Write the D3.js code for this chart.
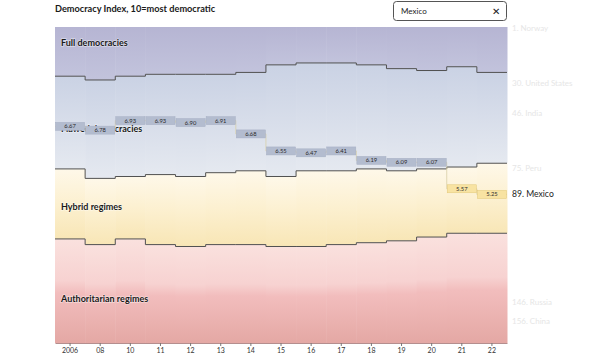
<!DOCTYPE html>
<html><head><meta charset="utf-8">
<script src="https://cdn.jsdelivr.net/npm/d3@7"></script>
<style>
html,body{margin:0;padding:0;background:#fff;}
svg{display:block;font-family:Lato,"Open Sans",sans-serif;}
</style></head>
<body>
<svg id="c" width="600" height="363"></svg>
<script>
// ---- data ----
const years = ["2006","08","10","11","12","13","14","15","16","17","18","19","20","21","22"];
const fullDem   = [26,28,26,25,25,25,24,20,19,19,20,22,23,21,24];
const flawedDem = [49,52,53,53,54,52,52,59,57,57,55,54,52,53,48];
const hybrid    = [37,35,33,37,37,38,39,37,40,39,39,37,36,35,37];
const authorit  = [55,52,55,52,51,52,52,51,51,52,53,54,56,58,58];
const mexicoScore = [6.67,6.78,6.93,6.93,6.90,6.91,6.68,6.55,6.47,6.41,6.19,6.09,6.07,5.57,5.25];
const mexicoRank  = [53,55,50,50,51,50,57,66,67,66,71,72,72,86,89];
const sideNames = ["Norway","United States","India","Peru","Mexico","Russia","China"];
const sideRanks = [1,30,46,75,89,146,156];
const categoryNames = ["Full democracies","Flawed democracies","Hybrid regimes","Authoritarian regimes"];
const totalCountries = 167;

// ---- build ----
const svg = d3.select("#c");
const keys = ["full","flawed","hybrid","auth"];
const table = years.map((yr,i)=>({year:yr, full:fullDem[i], flawed:flawedDem[i], hybrid:hybrid[i], auth:authorit[i]}));
const stack = d3.stack().keys(keys)(table);

const x = d3.scaleBand().domain(years).range([55,507]).padding(0);
const y = d3.scaleLinear().domain([0,totalCountries]).range([27,343]);
const bw = x.bandwidth();

const grads = {
  full:   [["0%","#b6b5d3"],["100%","#c2c3dc"]],
  flawed: [["0%","#cad2e4"],["100%","#e5e9f0"]],
  hybrid: [["0%","#fef8e9"],["50%","#fcf0d0"],["100%","#f8e6b6"]],
  auth:   [["0%","#fae1de"],["40%","#f7d2d1"],["52%","#f2bdbd"],["100%","#e4a8a4"]]
};
const defs = svg.append("defs");
Object.entries(grads).forEach(([k,stops])=>{
  const g = defs.append("linearGradient").attr("id","g-"+k).attr("x1",0).attr("x2",0).attr("y1",0).attr("y2",1);
  stops.forEach(s=>g.append("stop").attr("offset",s[0]).attr("stop-color",s[1]));
});

// bands
stack.forEach(layer=>{
  svg.append("g").selectAll("rect").data(layer).join("rect")
    .attr("x",d=>x(d.data.year)).attr("width",bw+0.5)
    .attr("y",d=>y(d[0])).attr("height",d=>y(d[1])-y(d[0]))
    .attr("fill","url(#g-"+layer.key+")");
});

// boundary step lines
for(let li=0; li<3; li++){
  const layer = stack[li];
  let p = "";
  layer.forEach((d,i)=>{
    const x0 = x(d.data.year), yy = y(d[1]);
    p += (i===0?"M":"L")+x0+","+yy+"H"+(x0+bw);
  });
  svg.append("path").attr("d",p).attr("fill","none").attr("stroke","#505050").attr("stroke-width",1);
}

// category labels
const labelRanks = [8.5, 54, 95, 144];
svg.append("g").selectAll("text").data(categoryNames).join("text")
  .attr("x",61).attr("y",(d,i)=>y(labelRanks[i])+3)
  .attr("font-size",9).attr("font-weight",700).attr("fill","#1a1a1a")
  .attr("stroke","#ffffff").attr("stroke-opacity",0.45).attr("stroke-width",1.4).attr("paint-order","stroke")
  .text(d=>d);

// Mexico boxes
const mx = years.map((yr,i)=>({year:yr, s:mexicoScore[i], r:mexicoRank[i]}));
let mp = "";
mx.forEach((d,i)=>{ const x0=x(d.year), yy=y(d.r-0.5); mp += (i===0?"M":"L")+(x0)+","+yy+"H"+(x0+bw); });
svg.append("path").attr("d",mp).attr("fill","none").attr("stroke","#d8cfa8").attr("stroke-width",0.8);
const mg = svg.append("g").selectAll("g").data(mx).join("g");
mg.append("rect")
  .attr("x",d=>x(d.year)+0.5).attr("width",bw-1)
  .attr("y",d=>y(d.r-0.5)-4).attr("height",8)
  .attr("fill",d=>d.s>=6?"#b3bccf":"#f8e3a2")
  .attr("stroke",d=>d.s>=6?"#a7b0c4":"#e2c878").attr("stroke-width",0.5);
mg.append("text")
  .attr("x",d=>x(d.year)+bw/2).attr("y",d=>y(d.r-0.5)+2)
  .attr("text-anchor","middle").attr("font-size",5.8).attr("fill","#2a2a2a")
  .text(d=>d.s.toFixed(2));

// side labels
svg.append("g").selectAll("text").data(sideNames).join("text")
  .attr("x",512).attr("y",(d,i)=>y(sideRanks[i]-0.5)+3)
  .attr("font-size",(d)=>d==="Mexico"?8.6:8)
  .attr("fill",d=>d==="Mexico"?"#222":"#e6e6e6")
  .text((d,i)=>sideRanks[i]+". "+d);

// axis
const ax = svg.append("g").attr("transform","translate(0,343)").call(d3.axisBottom(x).tickSize(3).tickSizeOuter(0));
ax.select(".domain").attr("stroke","#b48e8e").attr("stroke-width",1.2);
ax.selectAll(".tick line").attr("stroke","#777");
ax.selectAll(".tick text").attr("font-size",7).attr("fill","#333").attr("font-family","Lato,'Open Sans',sans-serif").attr("dy","0.55em");

// title
svg.append("text").attr("x",55).attr("y",12).attr("font-size",9.2).attr("font-weight",700).attr("fill","#1a1a1a")
  .text("Democracy Index, 10=most democratic");

// search box
svg.append("rect").attr("x",393.5).attr("y",1.5).attr("width",113).attr("height",19).attr("rx",3)
  .attr("fill","#fff").attr("stroke","#555");
svg.append("text").attr("x",401).attr("y",14).attr("font-size",8).attr("fill","#222").text("Mexico");
svg.append("text").attr("x",496).attr("y",14.5).attr("font-size",10).attr("text-anchor","middle").attr("fill","#222").text("✕");
</script>
</body></html>
